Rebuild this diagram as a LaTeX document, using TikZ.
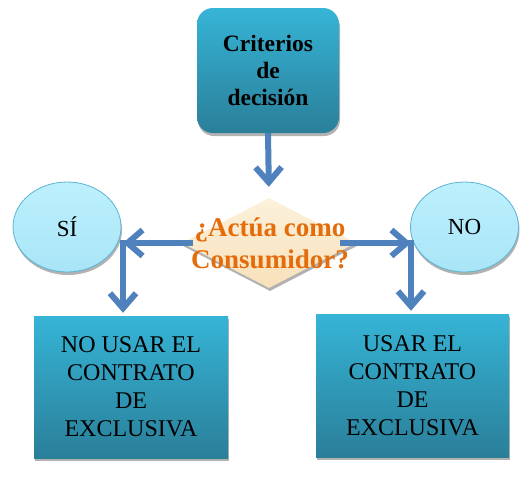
\documentclass[tikz,border=0pt]{standalone}
\usepackage{fontspec}
\setmainfont{Liberation Serif}
\usetikzlibrary{shapes.geometric,arrows.meta,shadows}
\definecolor{boxtop}{HTML}{36B4D6}
\definecolor{boxbot}{HTML}{2A7F99}
\definecolor{eltop}{HTML}{BDF0FD}
\definecolor{elbot}{HTML}{A9E5F7}
\definecolor{eldraw}{HTML}{5AB4D4}
\definecolor{arrblue}{HTML}{4F81BD}
\definecolor{qorange}{HTML}{E46C0A}
\definecolor{dtop}{HTML}{FCF1DC}
\definecolor{dbot}{HTML}{F8E1BA}
\begin{document}
\begin{tikzpicture}[x=1pt,y=-1pt,
  shadowed/.style={drop shadow={shadow xshift=1pt,shadow yshift=-3pt,fill=black,opacity=0.3}},
  bluebox/.style={rectangle,top color=boxtop,bottom color=boxbot,draw=none,inner sep=0pt,align=center,shadowed},
  ell/.style={ellipse,minimum width=108pt,minimum height=90pt,inner sep=0pt,top color=eltop,bottom color=elbot,draw=eldraw,line width=0.8pt,shadowed,font=\fontsize{23}{27}\selectfont},
  arr/.style={draw=arrblue,line width=6pt,-{Straight Barb[length=15pt,width=26pt]}}
]
\useasboundingbox (0,0) rectangle (529,485);
\node[bluebox,rounded corners=16pt,minimum width=142pt,minimum height=125pt,
      font=\fontsize{23.5}{27}\selectfont\bfseries] (top) at (268,70.5) {Criterios\\de\\decisión};
\node[diamond,minimum width=174pt,minimum height=90pt,inner sep=0pt,
      top color=dtop,bottom color=dbot,draw=none,shadowed] (d) at (269,243) {};
\node[ell] (si) at (67,227) {SÍ};
\node[ell] (no) at (464.5,227) {NO};
\node[bluebox,minimum width=194pt,minimum height=142pt,
      font=\fontsize{24}{28}\selectfont] (nb) at (131,387) {NO USAR EL\\CONTRATO\\DE\\EXCLUSIVA};
\node[bluebox,minimum width=193pt,minimum height=143pt,
      font=\fontsize{24}{28}\selectfont] (ub) at (412.5,385.5) {USAR EL\\CONTRATO\\DE\\EXCLUSIVA};
\coordinate (cl) at (123,243);
\coordinate (cr) at (411,243);
\draw[arr,shorten >=11pt] (top.south) -- (d.north);
\draw[arr,shorten <=76pt] (d.center) -- (cl);
\draw[arr,shorten <=71pt] (d.center) -- (cr);
\draw[arr,shorten >=3pt] ([yshift=3pt]cl) -- (cl |- nb.north);
\draw[arr,shorten >=3pt] ([yshift=3pt]cr) -- (cr |- ub.north);
\node[font=\fontsize{27}{32}\selectfont\bfseries,text=qorange,align=center] (q) at (270,243) {¿Actúa como\\Consumidor?};
\end{tikzpicture}
\end{document}
